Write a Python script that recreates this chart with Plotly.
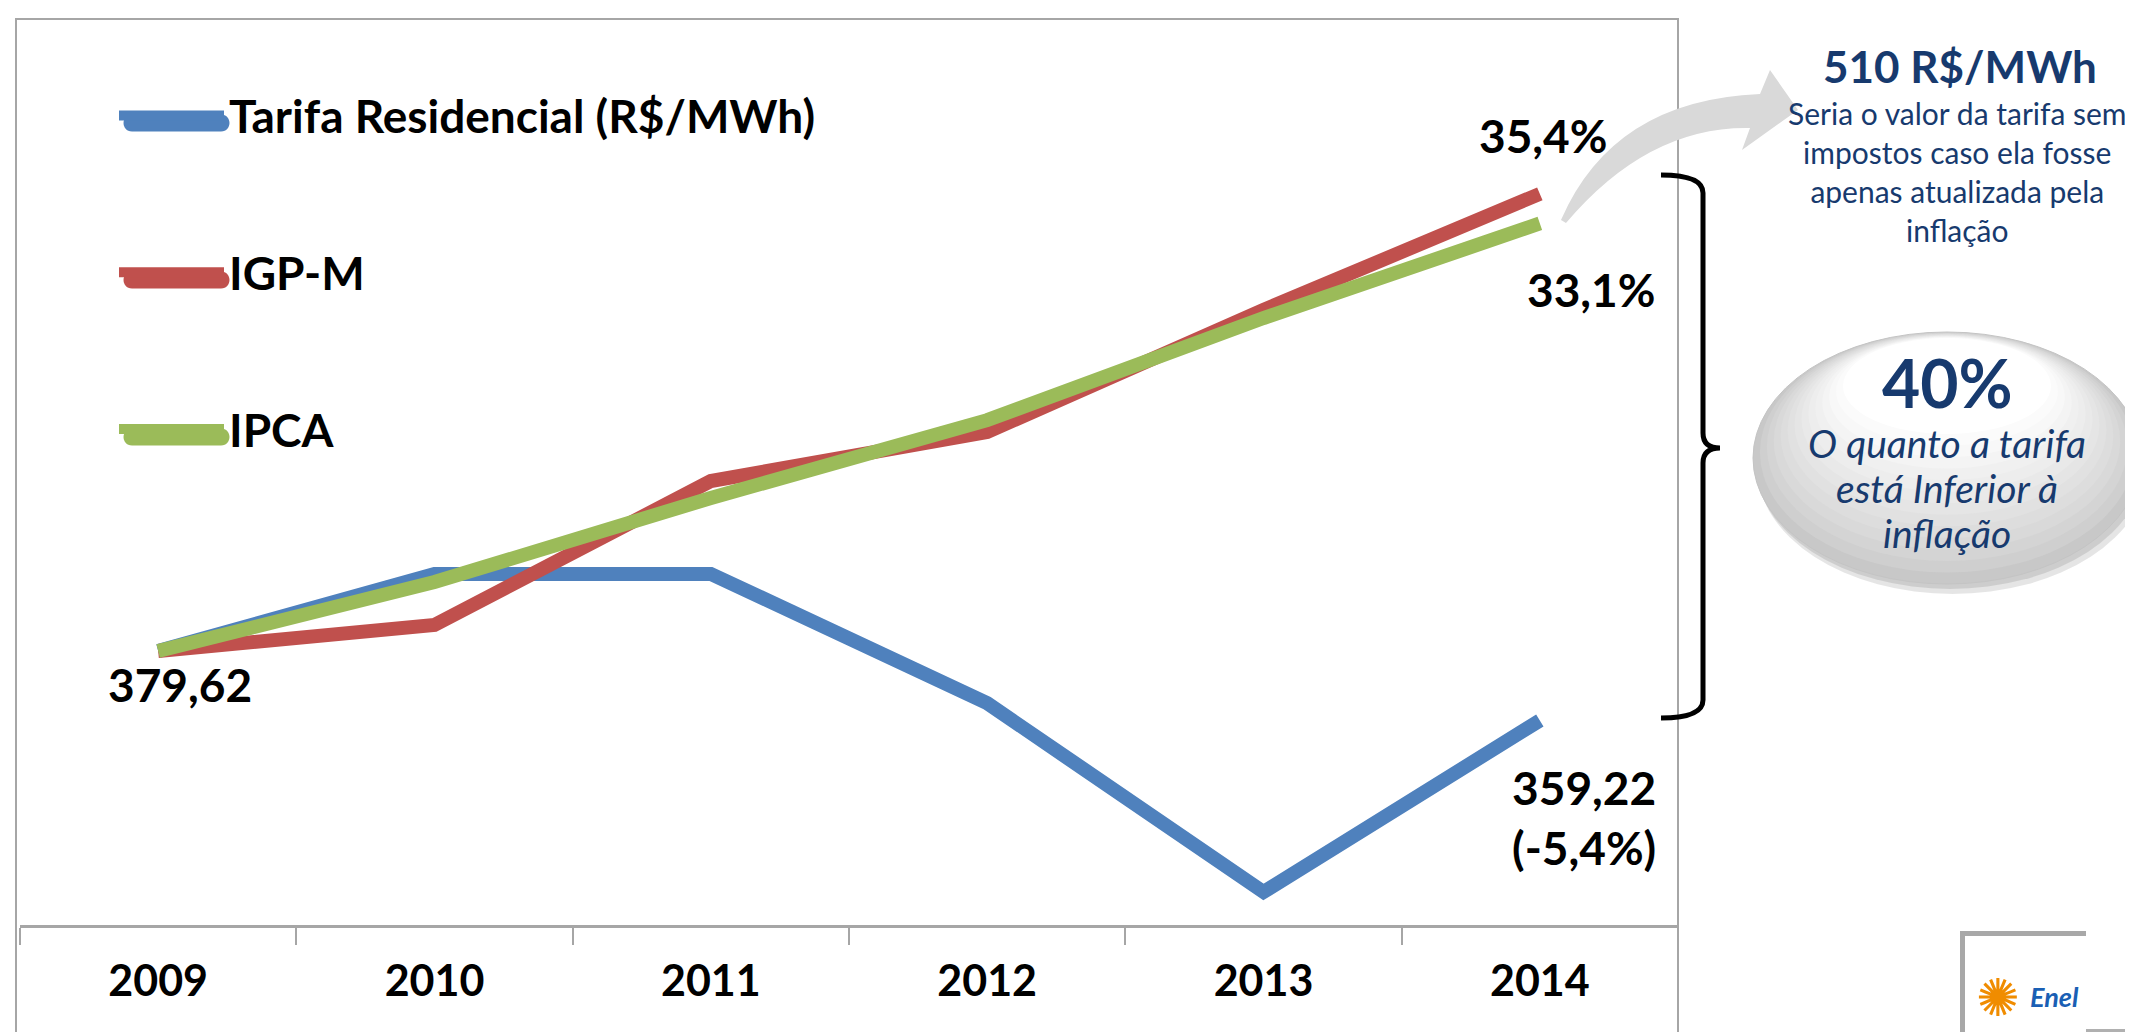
import plotly.graph_objects as go

# dados
years = ["2009", "2010", "2011", "2012", "2013", "2014"]
tarifa = [379.62, 402.3, 402.3, 364.3, 308.8, 359.22]
igpm = [379.62, 387.3, 429.6, 444.0, 479.9, 514.0]
ipca = [379.62, 399.9, 424.6, 447.5, 477.5, 505.3]

names = ["Tarifa Residencial (R$/MWh)", "IGP-M", "IPCA"]
colors = ["#4f81bd", "#c0504d", "#9bbb59"]

valor_corrigido = "510 R$/MWh"
texto_valor = "Seria o valor da tarifa sem<br>impostos caso ela fosse<br>apenas atualizada pela<br>inflação"
diferenca = "40%"
texto_diferenca = ["O quanto a tarifa", "está Inferior à", "inflação"]

NAVY = "#173a6e"
GRAY = "#a6a6a6"
FONT = "Lato"

# plot area in page pixels
PL, PR, PT, PB = 12, 1670, 11, 917


def fx(px):
    return (px - PL) / (PR - PL)


def fy(py):
    return (PB - py) / (PB - PT)


def path(cmds):
    s = ""
    for c, *pts in cmds:
        s += c
        for x, y in pts:
            s += f"{fx(x):.5f},{fy(y):.5f} "
    return s


def br(v, d):
    return f"{v:.{d}f}".replace(".", ",")


fig = go.Figure()
for vals, name, color, grp in zip([tarifa, igpm, ipca], names, colors, "abc"):
    fig.add_trace(
        go.Scatter(
            x=years,
            y=vals,
            name=name,
            mode="lines",
            line=dict(color=color, width=14),
            legendgroup=grp,
            hoverinfo="skip",
        )
    )

fig.update_layout(
    width=2133,
    height=1032,
    autosize=False,
    margin=dict(l=PL, r=2133 - PR, t=PT, b=1032 - PB, pad=0),
    paper_bgcolor="white",
    plot_bgcolor="white",
    font=dict(family=FONT, color="black"),
    xaxis=dict(
        type="category",
        range=[-0.5, 5.5],
        tickson="boundaries",
        ticks="outside",
        ticklen=17,
        tickwidth=2,
        tickcolor=GRAY,
        showline=True,
        linecolor=GRAY,
        linewidth=3,
        showgrid=False,
        zeroline=False,
        tickfont=dict(family=FONT, size=43, weight="bold", color="black"),
        ticklabelstandoff=16,
        fixedrange=True,
    ),
    yaxis=dict(visible=False, range=[299.1, 565.4], fixedrange=True),
    legend=dict(
        x=fx(106),
        y=fy(71),
        xanchor="left",
        yanchor="top",
        font=dict(family=FONT, size=46, weight="bold", color="black"),
        itemwidth=105,
        tracegroupgap=94,
        bgcolor="rgba(0,0,0,0)",
    ),
    showlegend=True,
)

pct_igpm = br((igpm[-1] / tarifa[0] - 1) * 100, 1) + "%"
pct_ipca = br((ipca[-1] / tarifa[0] - 1) * 100, 1) + "%"
pct_tar = "(" + br((tarifa[-1] / tarifa[0] - 1) * 100, 1) + "%)"

last = len(years) - 1
lab = dict(xref="x", yref="y", showarrow=False,
           font=dict(family=FONT, size=46, weight="bold", color="black"))
annotations = [
    dict(x=0, y=tarifa[0], text=br(tarifa[0], 2), xshift=22, yshift=-33, **lab),
    dict(x=last, y=igpm[-1], text=pct_igpm, xshift=4, yshift=58, **lab),
    dict(x=last, y=ipca[-1], text=pct_ipca, xshift=52, yshift=-66, **lab),
    dict(x=last, y=tarifa[-1], text=br(tarifa[-1], 2) + "<br>" + pct_tar,
         xshift=44, yshift=-97, **lab),
]

side = dict(xref="paper", yref="paper", showarrow=False, xanchor="center", yanchor="middle")
annotations += [
    dict(x=fx(1952), y=fy(58), text="<b>" + valor_corrigido + "</b>",
         font=dict(family=FONT, size=44, color=NAVY), **side),
    dict(x=fx(1949), y=fy(164), text=texto_valor, align="center",
         font=dict(family=FONT, size=30, color=NAVY), **side),
    dict(x=fx(1939), y=fy(374), text="<b>" + diferenca + "</b>",
         font=dict(family=FONT, size=66, color=NAVY), **side),
    dict(x=fx(1990), y=fy(990), text="✺",
         font=dict(family="DejaVu Sans", size=52, color="#f08c00"), **side),
    dict(x=fx(2046), y=fy(988), text="<b><i>Enel</i></b>",
         font=dict(family=FONT, size=27, color="#1a5fb4"), **side),
]
for line_txt, yy in zip(texto_diferenca, [435, 480, 525]):
    annotations.append(dict(x=fx(1939), y=fy(yy), text="<i>" + line_txt + "</i>",
                            font=dict(family=FONT, size=39, color=NAVY), **side))
fig.update_layout(annotations=annotations)

shapes = []
# moldura do grafico
shapes.append(dict(type="rect", xref="paper", yref="paper", x0=fx(8), x1=fx(1670),
                   y0=fy(1045), y1=fy(11), line=dict(color=GRAY, width=2), layer="below"))

# simbolos da legenda mais grossos, com pontas arredondadas
r = 8.5
for color, yy in zip(colors, [115, 272, 429]):
    x0, x1 = 124, 213
    shapes.append(dict(
        type="path", xref="paper", yref="paper",
        path=path([
            ("M", (x0, yy - r)), ("L", (x1, yy - r)),
            ("C", (x1 + 1.33 * r, yy - r), (x1 + 1.33 * r, yy + r), (x1, yy + r)),
            ("L", (x0, yy + r)),
            ("C", (x0 - 1.33 * r, yy + r), (x0 - 1.33 * r, yy - r), (x0, yy - r)),
        ]) + "Z",
        fillcolor=color, line=dict(width=0),
    ))

# seta curva cinza
shapes.append(dict(
    type="path", xref="paper", yref="paper",
    path=path([
        ("M", (1553, 212)),
        ("Q", (1605, 92), (1752, 86)),
        ("L", (1762, 62)),
        ("L", (1790, 102)),
        ("L", (1734, 142)),
        ("L", (1742, 120)),
        ("Q", (1640, 118), (1558, 215)),
    ]) + "Z",
    fillcolor="#d9d9d9", line=dict(width=0),
))
# chave
shapes.append(dict(
    type="path", xref="paper", yref="paper",
    path=path([
        ("M", (1653, 167)),
        ("Q", (1695, 167), (1695, 185)),
        ("L", (1695, 425)),
        ("Q", (1695, 440), (1712, 440)),
        ("Q", (1695, 440), (1695, 455)),
        ("L", (1695, 692)),
        ("Q", (1695, 710), (1653, 710)),
    ]),
    line=dict(color="black", width=5),
))
# elipse: sombra e degrade aproximado por camadas
shapes.append(dict(type="circle", xref="paper", yref="paper", x0=fx(1749), x1=fx(2140),
                   y0=fy(586), y1=fy(332), fillcolor="rgba(0,0,0,0.10)", line=dict(width=0)))
shapes.append(dict(type="circle", xref="paper", yref="paper", x0=fx(1747), x1=fx(2137),
                   y0=fy(581), y1=fy(328), fillcolor="rgba(0,0,0,0.10)", line=dict(width=0)))
n = 14
for i in range(n):
    t = i / (n - 1)
    ex0 = 1745 + 90 * t
    ex1 = 2133 - 90 * t
    ey0 = 324 + 6 * t
    ey1 = 576 - 150 * t
    g = int(200 + 55 * t ** 0.8)
    shapes.append(dict(type="circle", xref="paper", yref="paper", x0=fx(ex0), x1=fx(ex1),
                       y0=fy(ey1), y1=fy(ey0), fillcolor=f"rgb({g},{g},{g})",
                       line=dict(color="#c4c4c4" if i == 0 else "rgba(0,0,0,0)", width=1)))
# logo
shapes.append(dict(type="rect", xref="paper", yref="paper", x0=fx(1952), x1=fx(2078),
                   y0=fy(1040), y1=fy(923), fillcolor="#a8a8a8", line=dict(width=0)))
shapes.append(dict(type="rect", xref="paper", yref="paper", x0=fx(1957), x1=fx(2078),
                   y0=fy(1040), y1=fy(928), fillcolor="white", line=dict(width=0)))
shapes.append(dict(type="rect", xref="paper", yref="paper", x0=fx(2078), x1=fx(2140),
                   y0=fy(1027), y1=fy(1021), fillcolor="#b0b0b0", line=dict(width=0)))
fig.update_layout(shapes=shapes)

fig.write_html("out.html")
